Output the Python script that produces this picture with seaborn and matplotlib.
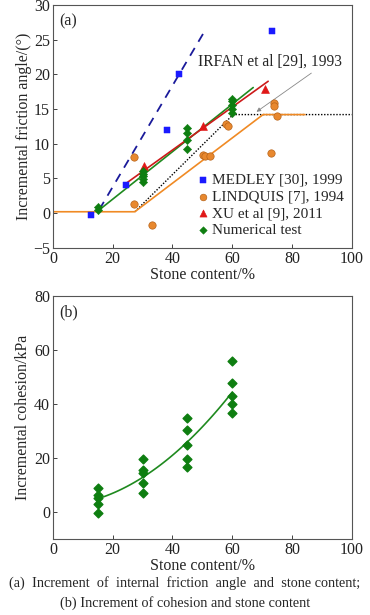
import numpy as np
import pandas as pd
import matplotlib
matplotlib.use("Agg")
import matplotlib.pyplot as plt
import seaborn as sns

# (a) friction angle data
medley_x = [12.6, 24.4, 38.0, 42.2, 73.3]
medley_y = [-0.3, 4.1, 12.0, 20.0, 26.3]

lindquis_x = [27.2, 27.2, 33.2, 50.3, 50.9, 52.7, 57.8, 58.4, 73.9, 73.9, 75.0, 73.1]
lindquis_y = [8.1, 1.3, -1.75, 8.4, 8.2, 8.3, 12.8, 12.6, 15.8, 15.5, 14.0, 8.7]

xu_x = [30.4, 50.3, 70.9]
xu_y = [6.8, 12.5, 17.9]

num_x = [15, 15, 30, 30, 30, 30, 30, 45, 45, 45, 45, 60, 60, 60, 60, 60]
num_y = [0.5, 0.9, 4.5, 4.9, 5.3, 5.7, 6.1, 12.2, 11.6, 10.6, 9.2, 16.4, 16.1, 15.6, 15.0, 14.5]

# fitted / reference lines
medley_line_x = [15.5, 51.0]
medley_line_y = [0.5, 26.4]
xu_line_x = [24.5, 72.0]
xu_line_y = [4.3, 19.0]
num_line_x = [15.0, 67.0]
num_line_y = [0.3, 18.1]
irfan_x = [27.4, 60.3, 100.0]
irfan_y = [0.2, 14.2, 14.2]
lind_line_x = [0.0, 27.4, 70.3, 84.3]
lind_line_y = [0.2, 0.2, 14.2, 14.2]

# (b) cohesion data
coh_x = [15] * 5 + [30] * 5 + [45] * 5 + [60] * 5
coh_y = [8.8, 6.3, 5.2, 2.9, -0.4,
         19.5, 15.5, 14.5, 10.7, 7.1,
         34.7, 30.3, 24.9, 19.4, 16.6,
         55.8, 47.8, 42.8, 39.8, 36.7]

sns.set_style("ticks")
plt.rcParams['font.family'] = ['Liberation Serif', 'DejaVu Serif']

fig = plt.figure(figsize=(3.7, 6.15), dpi=100)
ax1 = fig.add_axes([0.143, 0.597, 0.808, 0.395])
ax2 = fig.add_axes([0.143, 0.124, 0.808, 0.395])

blue = '#1a1aff'
orange = '#e8882e'
red = '#e01818'
green = '#0e7e10'
fs_axis = 11.5

# lines in panel (a)
sns.lineplot(x=medley_line_x, y=medley_line_y, ax=ax1, color='#1a1a9a',
             linestyle=(0, (5, 4)), lw=1.3)
sns.lineplot(x=irfan_x, y=irfan_y, ax=ax1, color='black', linestyle=(0, (1, 1.2)), lw=1.0)
sns.lineplot(x=lind_line_x, y=lind_line_y, ax=ax1, color='#f08a24', lw=1.2)
sns.lineplot(x=num_line_x, y=num_line_y, ax=ax1, color='#1f8a1f', lw=1.2)
sns.lineplot(x=xu_line_x, y=xu_line_y, ax=ax1, color='#cc1a1a', lw=1.2)

# scatter in panel (a)
sns.scatterplot(x=medley_x, y=medley_y, ax=ax1, marker='s', s=20, color=blue,
                edgecolor=blue, label='MEDLEY [30], 1999', zorder=5)
sns.scatterplot(x=lindquis_x, y=lindquis_y, ax=ax1, marker='o', s=28, color=orange,
                edgecolor='#b8641a', linewidth=0.5, label='LINDQUIS [7], 1994', zorder=5)
sns.scatterplot(x=xu_x, y=xu_y, ax=ax1, marker='^', s=32, color=red,
                edgecolor=red, label='XU et al [9], 2011', zorder=5)
sns.scatterplot(x=num_x, y=num_y, ax=ax1, marker='D', s=18, color=green,
                edgecolor=green, label='Numerical test', zorder=5)

ax1.annotate('IRFAN et al [29], 1993', xy=(68.1, 14.6), xytext=(48.5, 21.8),
             fontsize=11.2, va='center', ha='left',
             arrowprops=dict(arrowstyle='-|>', color='#888888', lw=0.6,
                             mutation_scale=6, shrinkA=0, shrinkB=0,
                             relpos=(0.82, 0)))

ax1.legend(loc='lower right', bbox_to_anchor=(1.01, 0.0), frameon=False, fontsize=11,
           handletextpad=0.1, labelspacing=0.2, handlelength=1.0, borderaxespad=0.3,
           markerscale=0.9)

ax1.set_xlim(0, 100)
ax1.set_ylim(-5, 30)
ax1.set_xticks([0, 20, 40, 60, 80, 100])
ax1.set_yticks([-5, 0, 5, 10, 15, 20, 25, 30])
ax1.set_xlabel('Stone content/%', fontsize=fs_axis, labelpad=0)
ax1.set_ylabel('Incremental friction angle/(°)', fontsize=fs_axis, labelpad=1)
ax1.text(0.02, 0.965, '(a)', transform=ax1.transAxes, fontsize=fs_axis, va='top', ha='left')

# panel (b)
sns.regplot(x=coh_x, y=coh_y, ax=ax2, order=2, ci=None, truncate=True,
            marker='D', scatter_kws=dict(s=20, color=green, edgecolor=green,
                                         alpha=1, zorder=5),
            line_kws=dict(color='#1f8a1f', lw=1.2))
ax2.set_xlim(0, 100)
ax2.set_ylim(-10, 80)
ax2.set_xticks([0, 20, 40, 60, 80, 100])
ax2.set_yticks([0, 20, 40, 60, 80])
ax2.set_xlabel('Stone content/%', fontsize=fs_axis, labelpad=0)
ax2.set_ylabel('Incremental cohesion/kPa', fontsize=fs_axis, labelpad=2)
ax2.text(0.02, 0.965, '(b)', transform=ax2.transAxes, fontsize=fs_axis, va='top', ha='left')

for ax in (ax1, ax2):
    ax.tick_params(direction='in', length=3, width=0.6, labelsize=fs_axis, pad=2,
                   colors='#222222')
    for sp in ax.spines.values():
        sp.set_visible(True)
        sp.set_color('#555555')
        sp.set_linewidth(0.8)

fig.text(0.5, 0.052, '(a)  Increment  of  internal  friction  angle  and  stone content;',
         ha='center', va='center', fontsize=10.3)
fig.text(0.5, 0.02, '(b) Increment of cohesion and stone content',
         ha='center', va='center', fontsize=10.3)

fig.savefig('out.png', dpi=100)
